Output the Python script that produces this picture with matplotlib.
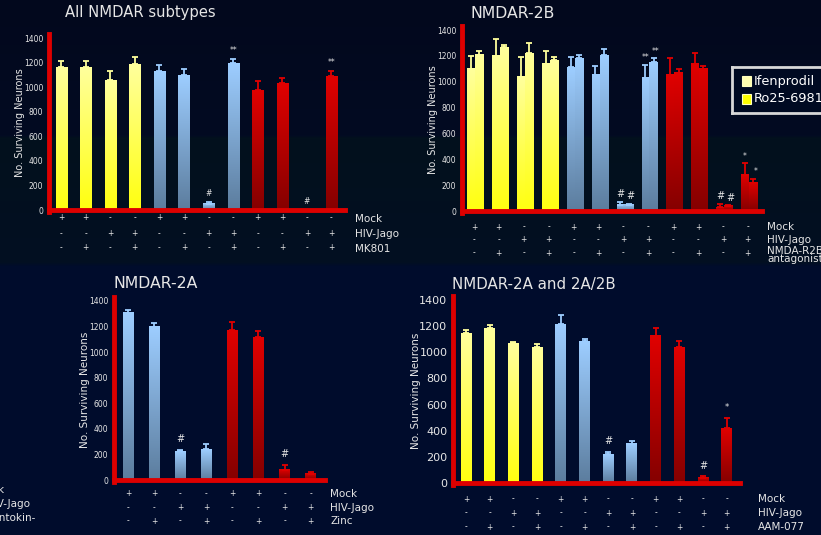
import numpy as np
import matplotlib
matplotlib.use("Agg")
import matplotlib.pyplot as plt
from matplotlib import transforms
from matplotlib.colors import to_rgb

W, H = 821, 535

# panel 1 - all NMDAR subtypes
p1_vals = [1160, 1160, 1055, 1185, 1130, 1095, 50, 1195, 975, 1030, 0, 1090]
p1_err = [55, 50, 80, 60, 50, 55, 15, 35, 75, 45, 0, 40]
p1_cols = ["y", "y", "y", "y", "b", "b", "b", "b", "r", "r", "r", "r"]
p1_marks = ["", "", "", "", "", "", "#", "**", "", "", "#", "**"]
p1_rows = [["+", "+", "-", "-", "+", "+", "-", "-", "+", "+", "-", "-"],
           ["-", "-", "+", "+", "-", "-", "+", "+", "-", "-", "+", "+"],
           ["-", "+", "-", "+", "-", "+", "-", "+", "-", "+", "-", "+"]]
p1_names = ["Mock", "HIV-Jago", "MK801"]

# panel 2 - NMDAR-2B (two antagonists)
p2_ifen = [1100, 1200, 1040, 1140, 1110, 1055, 50, 1030, 1055, 1140, 30, 280]
p2_ifen_err = [100, 130, 150, 100, 80, 70, 20, 100, 130, 80, 25, 90]
p2_ro = [1210, 1265, 1220, 1165, 1180, 1205, 50, 1150, 1070, 1100, 40, 220]
p2_ro_err = [25, 20, 80, 25, 25, 50, 5, 30, 25, 20, 5, 30]
p2_cols = p1_cols
p2_marks = ["", "", "", "", "", "", "#", "**", "", "", "#", "*"]
p2_rows = p1_rows
p2_names = ["Mock", "HIV-Jago", "NMDA-R2B\nantagonist"]
p2_legend = ["Ifenprodil", "Ro25-6981"]

# panel 3 - NMDAR-2A
p3_vals = [1310, 1200, 225, 240, 1170, 1115, 80, 50]
p3_err = [20, 30, 10, 40, 65, 50, 40, 10]
p3_cols = ["b", "b", "b", "b", "r", "r", "r", "r"]
p3_marks = ["", "", "#", "", "", "", "#", ""]
p3_rows = [["+", "+", "-", "-", "+", "+", "-", "-"],
           ["-", "-", "+", "+", "-", "-", "+", "+"],
           ["-", "+", "-", "+", "-", "+", "-", "+"]]
p3_names = ["Mock", "HIV-Jago", "Zinc"]

# panel 4 - NMDAR-2A and 2A/2B
p4_vals = [1145, 1185, 1070, 1040, 1215, 1085, 220, 300, 1125, 1040, 40, 420]
p4_err = [25, 25, 5, 25, 70, 20, 15, 20, 60, 45, 10, 80]
p4_cols = p1_cols
p4_marks = ["", "", "", "", "", "", "#", "", "", "", "#", "*"]
p4_rows = p1_rows
p4_names = ["Mock", "HIV-Jago", "AAM-077"]

GRAD = {"y": ("#ffff10", "#ffff9c"),
        "b": ("#5c7d9e", "#9dcdff"),
        "r": ("#850000", "#e00000"),
        "p": ("#ffff70", "#ffffb0")}
TXT = "#e6e6e6"
RED = "#dd0000"

fig = plt.figure(figsize=(W / 100, H / 100), dpi=100)

# background
bg = fig.add_axes([0, 0, 1, 1], zorder=-10)
stops_y = [0, 135, 138, 262, 266, 535]
stops_c = ["#02081d", "#020b22", "#02111d", "#020f22", "#000c2c", "#000c2c"]
rows = np.arange(H)
img = np.zeros((H, 1, 3))
for k in range(3):
    img[:, 0, k] = np.interp(rows, stops_y, [to_rgb(c)[k] for c in stops_c])
bg.imshow(img, aspect="auto", extent=[0, 1, 0, 1])
bg.set_axis_off()


def px_axes(left, right, y0, y1400, xlo, xhi):
    lo, hi = -15, 1430
    s = (y0 - y1400) / 1400.0
    bot = y0 + (0 - lo) * s
    top = y1400 - (hi - 1400) * s
    ax = fig.add_axes([left / W, 1 - bot / H, (right - left) / W, (bot - top) / H])
    ax.set_facecolor("none")
    ax.set_xlim(xlo, xhi)
    ax.set_ylim(lo, hi)
    for sp in ["top", "right"]:
        ax.spines[sp].set_visible(False)
    ax.spines["left"].set_color(RED)
    ax.spines["bottom"].set_color(RED)
    ax.spines["left"].set_linewidth(3.5)
    ax.spines["bottom"].set_linewidth(3.5)
    ax.spines["bottom"].set_position(("data", 0))
    ax.set_xticks([])
    ax.set_yticks(range(0, 1401, 200))
    ax.tick_params(axis="y", length=0, pad=4, colors=TXT)
    return ax


def grad_bar(ax, x, h, w, key):
    c0, c1 = GRAD[key]
    a, b = np.array(to_rgb(c0)), np.array(to_rgb(c1))
    t = np.linspace(0, 1, 64)[:, None, None]
    g = a * (1 - t) + b * t
    ax.imshow(g, origin="lower", aspect="auto", interpolation="bilinear",
              extent=[x - w / 2, x + w / 2, 0, max(h, 0.01)], zorder=2)


def draw_bars(ax, xs, vals, errs, cols, w):
    for x, v, e, c in zip(xs, vals, errs, cols):
        if v <= 0:
            continue
        grad_bar(ax, x, v, w, c)
        ec = GRAD[c][1]
        ax.errorbar([x], [v], yerr=[[0], [e]], fmt="none", ecolor=ec,
                    elinewidth=1.3, capsize=2.2, capthick=1.3, zorder=3)


def sign_rows(ax, xs, rows_, ys, fs):
    tr = transforms.blended_transform_factory(ax.transData, fig.transFigure)
    for r, y in zip(rows_, ys):
        for x, s in zip(xs, r):
            ax.text(x, 1 - y / H, s, transform=tr, ha="center", va="center",
                    color=TXT, fontsize=fs)


def names(x, ys, labels, fs):
    for y, t in zip(ys, labels):
        fig.text(x / W, 1 - y / H, t, color=TXT, fontsize=fs, ha="left",
                 va="center", linespacing=0.8)


# ---------- panel 1
ax1 = px_axes(49, 345, 210, 38, -0.49, 11.55)
x1 = np.arange(12)
draw_bars(ax1, x1, p1_vals, p1_err, p1_cols, 0.45)
for x, v, e, m in zip(x1, p1_vals, p1_err, p1_marks):
    if m:
        ax1.text(x, v + e + 35, m, ha="center", va="bottom", color=TXT, fontsize=5.5)
ax1.tick_params(axis="y", labelsize=5.5)
ax1.set_ylabel("No. Surviving Neurons", color=TXT, fontsize=7, labelpad=-1)
fig.text(65 / W, 1 - 13 / H, "All NMDAR subtypes", color=TXT, fontsize=10.6, va="center")
sign_rows(ax1, x1, p1_rows, [218, 234, 248], 5.5)
names(355, [219, 234, 249], p1_names, 7.5)

# ---------- panel 2
ax2 = px_axes(462, 762, 211, 30, -0.48, 11.57)
x2 = np.arange(12)
draw_bars(ax2, x2 - 0.12, p2_ifen, p2_ifen_err, p2_cols, 0.3)
draw_bars(ax2, x2 + 0.22, p2_ro, p2_ro_err, p2_cols, 0.34)
for x, a, ea, b, eb, m in zip(x2, p2_ifen, p2_ifen_err, p2_ro, p2_ro_err, p2_marks):
    if m:
        fs = 7 if m == "#" else 5.5
        ax2.text(x - 0.12, a + ea + 20, m, ha="center", va="bottom", color=TXT, fontsize=fs)
        ax2.text(x + 0.3, b + eb + 20, m, ha="center", va="bottom", color=TXT, fontsize=fs)
ax2.tick_params(axis="y", labelsize=5.5)
ax2.set_ylabel("No. Surviving Neurons", color=TXT, fontsize=7, labelpad=-1)
fig.text(470 / W, 1 - 13 / H, "NMDAR-2B", color=TXT, fontsize=11.3, va="center")
sign_rows(ax2, x2, p2_rows, [227, 240, 253], 5.5)
names(767, [227, 240], p2_names[:2], 7.5)
fig.text(767 / W, 1 - 246 / H, p2_names[2], color=TXT, fontsize=7.5,
         ha="left", va="top", linespacing=0.8)
# legend box
lax = fig.add_axes([732 / W, 1 - 113 / H, 100 / W, 46 / H])
lax.set_xlim(0, 100)
lax.set_ylim(46, 0)
lax.set_facecolor("#000a22")
lax.set_xticks([])
lax.set_yticks([])
for sp in lax.spines.values():
    sp.set_color("#d8d8d8")
    sp.set_linewidth(2)
for yy, lab, key in zip([14, 32], p2_legend, ["p", "y"]):
    lax.add_patch(plt.Rectangle((10, yy - 5), 9, 10, facecolor=GRAD[key][1] if key == "p" else "#ffff00",
                                edgecolor="#ffffc0", lw=0.8))
    lax.text(22, yy, lab, color="white", fontsize=9.3, va="center")

# ---------- panel 3
ax3 = px_axes(114, 325, 480, 301, -0.54, 7.55)
x3 = np.arange(8)
draw_bars(ax3, x3, p3_vals, p3_err, p3_cols, 0.42)
for x, v, e, m in zip(x3, p3_vals, p3_err, p3_marks):
    if m:
        ax3.text(x, v + e + 45, m, ha="center", va="bottom", color=TXT, fontsize=7)
ax3.tick_params(axis="y", labelsize=5.5)
ax3.set_ylabel("No. Surviving Neurons", color=TXT, fontsize=7.5, labelpad=-1)
fig.text(113 / W, 1 - 284 / H, "NMDAR-2A", color=TXT, fontsize=11.3, va="center")
sign_rows(ax3, x3, p3_rows, [494, 508, 521], 5.5)
names(330, [494, 508, 521], p3_names, 7.5)
# cut-off labels from a panel behind
for xr, y, t in zip([4, 30, 36], [490, 504, 518], ["Mock", "HIV-Jago", "Conantokin-"]):
    fig.text(xr / W, 1 - y / H, t, color=TXT, fontsize=7.5, ha="right", va="center")

# ---------- panel 4
ax4 = px_axes(453, 740, 483, 300, -0.55, 11.56)
x4 = np.arange(12)
draw_bars(ax4, x4, p4_vals, p4_err, p4_cols, 0.46)
for x, v, e, m in zip(x4, p4_vals, p4_err, p4_marks):
    if m:
        fs = 7 if m == "#" else 6
        ax4.text(x, v + e + 45, m, ha="center", va="bottom", color=TXT, fontsize=fs)
ax4.tick_params(axis="y", labelsize=8)
ax4.set_ylabel("No. Surviving Neurons", color=TXT, fontsize=7.5, labelpad=-1)
fig.text(452 / W, 1 - 284 / H, "NMDAR-2A and 2A/2B", color=TXT, fontsize=10.8, va="center")
sign_rows(ax4, x4, p4_rows, [499, 513, 527], 5.5)
names(758, [499, 513, 527], p4_names, 7.5)

fig.savefig("out.png", dpi=100, facecolor=fig.get_facecolor())
